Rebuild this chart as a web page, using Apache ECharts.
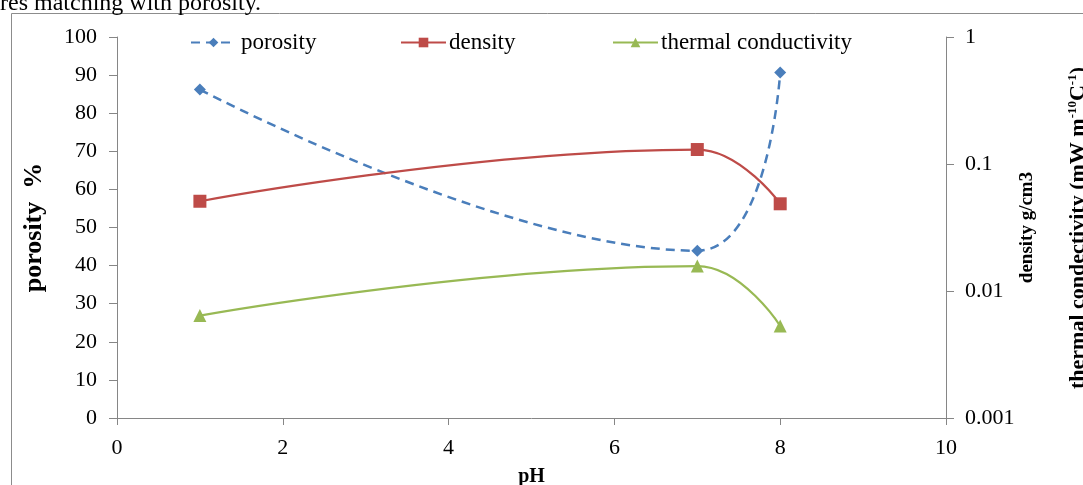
<!DOCTYPE html>
<html>
<head>
<meta charset="utf-8">
<script src="https://cdn.jsdelivr.net/npm/echarts@6/dist/echarts.min.js"></script>
<style>
html,body{margin:0;padding:0;background:#fff;}
#chart{width:1083px;height:485px;}
</style>
</head>
<body>
<div id="chart"></div>
<script>
var pH = [1, 7, 8];
var porosity = [86.2, 43.9, 90.7];
var density = [0.0509, 0.130, 0.0486];
var thermal = [0.0064, 0.0157, 0.0053];
var xTicks = [0, 2, 4, 6, 8, 10];
var leftTicks = [0, 10, 20, 30, 40, 50, 60, 70, 80, 90, 100];
var rightTickLabels = ['0.001', '0.01', '0.1', '1'];
var seriesNames = ['porosity', 'density', 'thermal conductivity'];

var serif = '"Liberation Serif", "Times New Roman", serif';
var axisGray = '#868686';

function pairs(xs, ys) { return xs.map(function (x, i) { return [x, ys[i]]; }); }

var legendLefts = [190, 400, 612];
var legends = seriesNames.map(function (n, i) {
  return {
    top: 31, left: legendLefts[i], padding: 0, itemWidth: 45, itemHeight: 12, itemGap: 0,
    textStyle: {fontFamily: serif, fontSize: 23, color: '#000', padding: [0, 0, 0, i === 0 ? 0 : -2]},
    data: [n]
  };
});

var chart = echarts.init(document.getElementById('chart'), null, {renderer: 'canvas'});
chart.setOption({
  backgroundColor: '#fff',
  animation: false,
  textStyle: {fontFamily: serif},
  grid: {left: 117, right: 137, top: 37, bottom: 67, containLabel: false, outerBoundsMode: 'none'},
  legend: legends,
  xAxis: {
    type: 'value', min: 0, max: 10, interval: 2,
    name: 'pH', nameLocation: 'middle', nameGap: 49, nameMoveOverlap: false,
    nameTextStyle: {fontFamily: serif, fontSize: 20, fontWeight: 'bold', color: '#000'},
    axisLine: {show: true, lineStyle: {color: axisGray, width: 1}},
    axisTick: {show: true, inside: false, length: 7, lineStyle: {color: axisGray}},
    axisLabel: {margin: 19, fontFamily: serif, fontSize: 22, color: '#000',
      formatter: function (v) { return xTicks.indexOf(v) >= 0 ? String(v) : ''; }},
    splitLine: {show: false}
  },
  yAxis: [{
    type: 'value', min: 0, max: 100, interval: 10, position: 'left',
    name: 'porosity  %', nameLocation: 'middle', nameGap: 70, nameRotate: 90, nameMoveOverlap: false,
    nameTextStyle: {fontFamily: serif, fontSize: 26, fontWeight: 'bold', color: '#000'},
    axisLine: {show: true, lineStyle: {color: axisGray, width: 1}},
    axisTick: {show: true, inside: false, length: 8, lineStyle: {color: axisGray}},
    axisLabel: {margin: 20, fontFamily: serif, fontSize: 22, color: '#000',
      formatter: function (v) { return leftTicks.indexOf(v) >= 0 ? String(v) : ''; }},
    splitLine: {show: false}
  }, {
    type: 'log', logBase: 10, min: 0.001, max: 1, position: 'right',
    name: 'density g/cm3', nameLocation: 'middle', nameGap: 72, nameRotate: 90, nameMoveOverlap: false,
    nameTextStyle: {fontFamily: serif, fontSize: 19, fontWeight: 'bold', color: '#000'},
    axisLine: {show: true, lineStyle: {color: axisGray, width: 1}},
    axisTick: {show: true, inside: false, length: 8, lineStyle: {color: axisGray}},
    axisLabel: {margin: 19, fontFamily: serif, fontSize: 22, color: '#000',
      formatter: function (v) {
        var idx = Math.round(Math.log10(v)) + 3;
        return rightTickLabels[idx] !== undefined ? rightTickLabels[idx] : '';
      }},
    splitLine: {show: false}
  }],
  series: [{
    name: seriesNames[0], type: 'line', yAxisIndex: 0, smooth: 0.45,
    data: pairs(pH, porosity),
    symbol: 'diamond', symbolSize: 12,
    itemStyle: {color: '#4A7EBB'},
    lineStyle: {color: '#4A7EBB', width: 2.5, type: [9, 6]}
  }, {
    name: seriesNames[1], type: 'line', yAxisIndex: 1, smooth: 0.45,
    data: pairs(pH, density),
    symbol: 'rect', symbolSize: 13,
    itemStyle: {color: '#BE4B48'},
    lineStyle: {color: '#BE4B48', width: 2.2}
  }, {
    name: seriesNames[2], type: 'line', yAxisIndex: 1, smooth: 0.45,
    data: pairs(pH, thermal),
    symbol: 'triangle', symbolSize: 13,
    itemStyle: {color: '#98B954'},
    lineStyle: {color: '#98B954', width: 2.2}
  }],
  graphic: [{
    type: 'line', silent: true,
    shape: {x1: 11.5, y1: 13.5, x2: 1083, y2: 13.5},
    style: {stroke: '#8c8c8c', lineWidth: 1}
  }, {
    type: 'line', silent: true,
    shape: {x1: 11.5, y1: 13.5, x2: 11.5, y2: 485},
    style: {stroke: '#8c8c8c', lineWidth: 1}
  }, {
    type: 'text', silent: true, left: 0, top: -8,
    style: {text: 'res matching with porosity.', font: '24px ' + serif, fill: '#000'}
  }, {
    type: 'text', silent: true,
    x: 1078, y: 228, rotation: Math.PI / 2,
    style: {
      text: 'thermal condectivity (mW m{s|-1}{s|0}C{s|-1})',
      font: 'bold 22px ' + serif, fill: '#000', align: 'center', verticalAlign: 'middle',
      rich: {s: {fontSize: 13, fontWeight: 'bold', fontFamily: serif, verticalAlign: 'top', padding: [0, 0, 10, 0]}}
    }
  }]
});
</script>
</body>
</html>
